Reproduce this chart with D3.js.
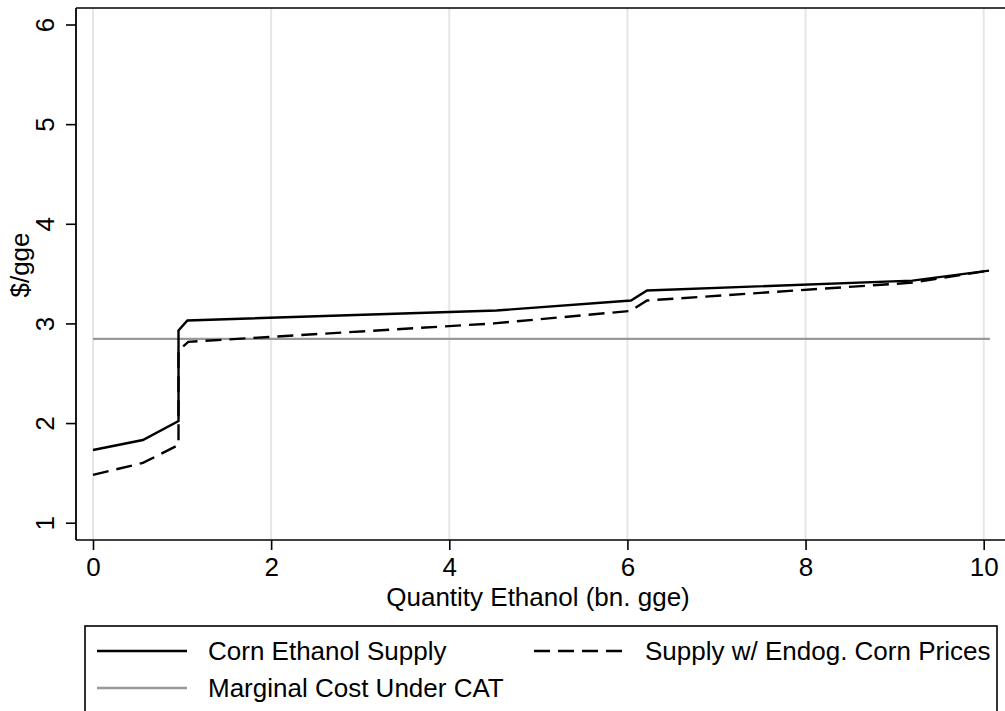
<!DOCTYPE html>
<html>
<head>
<meta charset="utf-8">
<script src="https://cdn.jsdelivr.net/npm/d3@7"></script>
<style>
  html, body { margin: 0; padding: 0; background: #fff; }
  svg { display: block; font-family: "Liberation Sans", Arial, Helvetica, sans-serif; }
</style>
</head>
<body>
<svg id="chart" width="1005" height="711"></svg>
<script>
// supply curves ($/gge vs bn. gge)
const supplyQ = [0, 0.56, 0.96, 0.96, 1.06, 4.53, 6.04, 6.22, 9.2, 10.06];
const supplyP = [1.73, 1.83, 2.02, 2.93, 3.03, 3.13, 3.23, 3.33, 3.43, 3.53];

const endogQ = [0, 0.56, 0.96, 0.96, 1.07, 4.5, 6.03, 6.22, 9.21, 10.06];
const endogP = [1.48, 1.60, 1.78, 2.73, 2.815, 3.0, 3.125, 3.23, 3.41, 3.53];

const mcQ = [0, 10.07];
const mcP = [2.845, 2.845];

const xTicks = [0, 2, 4, 6, 8, 10];
const yTicks = [1, 2, 3, 4, 5, 6];

const legendLabels = ["Corn Ethanol Supply", "Supply w/ Endog. Corn Prices", "Marginal Cost Under CAT"];

const FONT = 26;
const DASH = "16,8";

const svg = d3.select("#chart");

const plotLeft = 76, plotTop = 8, plotBottom = 540, plotRight = 1005;

const x = d3.scaleLinear().domain([0, 10]).range([93, 983.7]);
const y = d3.scaleLinear().domain([1, 6]).range([522.7, 24.5]);

// vertical grid lines
svg.append("g")
  .selectAll("line")
  .data(xTicks)
  .join("line")
  .attr("x1", d => x(d)).attr("x2", d => x(d))
  .attr("y1", plotTop).attr("y2", plotBottom)
  .attr("stroke", "#e6e6e6")
  .attr("stroke-width", 2);

// frame: top line
svg.append("line")
  .attr("x1", plotLeft).attr("x2", plotRight)
  .attr("y1", plotTop).attr("y2", plotTop)
  .attr("stroke", "#000").attr("stroke-width", 1.6);

// x axis
const xAxis = d3.axisBottom(x).tickValues(xTicks).tickSize(10).tickFormat(d3.format("d"));
const gx = svg.append("g").attr("transform", `translate(0,${plotBottom})`).call(xAxis);
gx.select(".domain").remove();
gx.selectAll(".tick line").attr("stroke", "#000").attr("stroke-width", 1.6);
gx.selectAll(".tick text").remove();
gx.selectAll(".tick").append("text")
  .attr("y", 36)
  .attr("text-anchor", "middle")
  .attr("font-size", FONT)
  .attr("fill", "#000")
  .text(d => d);
svg.append("line")
  .attr("x1", plotLeft).attr("x2", plotRight)
  .attr("y1", plotBottom).attr("y2", plotBottom)
  .attr("stroke", "#000").attr("stroke-width", 1.6);

// y axis, labels rotated like the original
const yAxis = d3.axisLeft(y).tickValues(yTicks).tickSize(10).tickFormat(d3.format("d"));
const gy = svg.append("g").attr("transform", `translate(${plotLeft},0)`).call(yAxis);
gy.select(".domain").remove();
gy.selectAll(".tick line").attr("stroke", "#000").attr("stroke-width", 1.6);
gy.selectAll(".tick text").remove();
gy.selectAll(".tick").append("text")
  .attr("transform", "translate(-22,0) rotate(-90)")
  .attr("text-anchor", "middle")
  .attr("font-size", FONT)
  .attr("fill", "#000")
  .text(d => d);
svg.append("line")
  .attr("x1", plotLeft).attr("x2", plotLeft)
  .attr("y1", plotTop).attr("y2", plotBottom)
  .attr("stroke", "#000").attr("stroke-width", 1.8);

// axis titles
svg.append("text")
  .attr("x", 538).attr("y", 606)
  .attr("text-anchor", "middle")
  .attr("font-size", FONT)
  .text("Quantity Ethanol (bn. gge)");

svg.append("text")
  .attr("transform", "translate(29,265) rotate(-90)")
  .attr("text-anchor", "middle")
  .attr("font-size", FONT)
  .text("$/gge");

// lines
const line = d3.line().x(d => x(d[0])).y(d => y(d[1]));

svg.append("path")
  .datum(d3.zip(mcQ, mcP))
  .attr("d", line)
  .attr("fill", "none").attr("stroke", "#999").attr("stroke-width", 2.4);

svg.append("path")
  .datum(d3.zip(endogQ, endogP))
  .attr("d", line)
  .attr("fill", "none").attr("stroke", "#000").attr("stroke-width", 2.4)
  .attr("stroke-dasharray", DASH);

svg.append("path")
  .datum(d3.zip(supplyQ, supplyP))
  .attr("d", line)
  .attr("fill", "none").attr("stroke", "#000").attr("stroke-width", 2.4);

// legend
const lg = svg.append("g");
lg.append("rect")
  .attr("x", 85).attr("y", 626).attr("width", 912).attr("height", 120)
  .attr("fill", "#fff").attr("stroke", "#000").attr("stroke-width", 1.6);

const legendItems = [
  { x: 97, y: 651, stroke: "#000", dash: null, label: legendLabels[0] },
  { x: 534, y: 651, stroke: "#000", dash: DASH, label: legendLabels[1] },
  { x: 97, y: 688, stroke: "#999", dash: null, label: legendLabels[2] }
];

legendItems.forEach(it => {
  lg.append("line")
    .attr("x1", it.x).attr("x2", it.x + 90)
    .attr("y1", it.y).attr("y2", it.y)
    .attr("stroke", it.stroke).attr("stroke-width", 2.4)
    .attr("stroke-dasharray", it.dash);
  lg.append("text")
    .attr("x", it.x + 111).attr("y", it.y + 9)
    .attr("font-size", FONT)
    .text(it.label);
});
</script>
</body>
</html>
